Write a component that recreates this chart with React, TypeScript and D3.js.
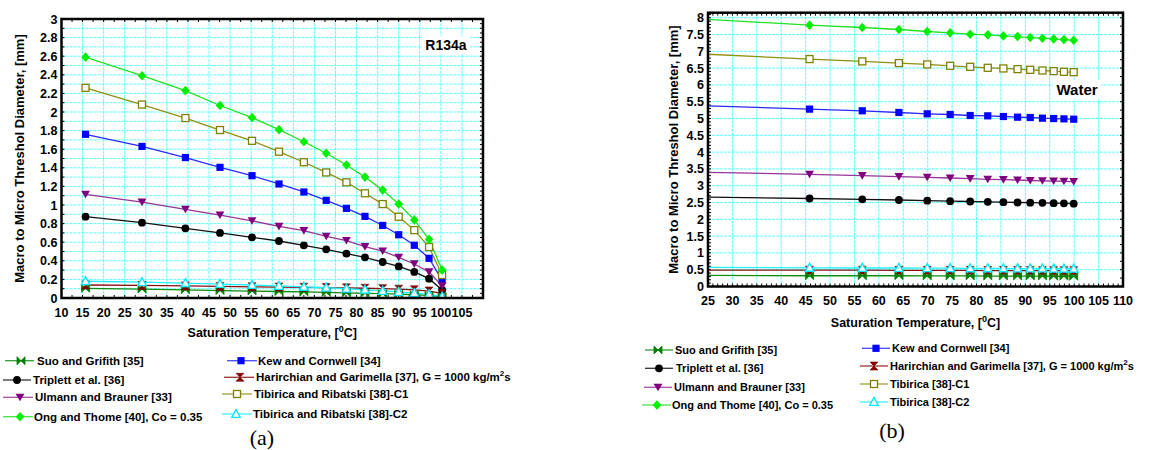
import React from 'react';
import * as d3 from 'd3';

// Saturation temperatures (deg C)
const tempR134a = [15.7, 29.1, 39.4, 47.6, 55.2, 61.6, 67.5, 72.8, 77.6, 82.0, 86.2, 90.0, 93.7, 97.2, 100.3];
const tempWater = [24.1, 45.8, 56.6, 64.1, 69.9, 74.6, 78.7, 82.3, 85.5, 88.4, 91.0, 93.5, 95.8, 97.9, 99.9];

// R134a threshold diameters (mm)
const r134aSuo = [0.104, 0.095, 0.088, 0.08, 0.075, 0.07, 0.065, 0.06, 0.055, 0.05, 0.046, 0.041, 0.035, 0.028, 0.016];
const r134aKew = [1.76, 1.63, 1.51, 1.405, 1.315, 1.226, 1.14, 1.05, 0.964, 0.878, 0.78, 0.68, 0.567, 0.427, 0.19];
const r134aTriplett = [0.875, 0.81, 0.749, 0.70, 0.652, 0.613, 0.566, 0.523, 0.477, 0.437, 0.387, 0.34, 0.28, 0.208, 0.086];
const r134aHarirchian = [0.14, 0.135, 0.13, 0.125, 0.12, 0.118, 0.115, 0.112, 0.109, 0.105, 0.1, 0.095, 0.088, 0.075, 0.05];
const r134aUlmann = [1.115, 1.03, 0.953, 0.892, 0.83, 0.77, 0.724, 0.663, 0.617, 0.552, 0.505, 0.437, 0.366, 0.28, 0.13];
const r134aC1 = [2.26, 2.08, 1.935, 1.806, 1.69, 1.573, 1.46, 1.35, 1.244, 1.126, 1.01, 0.874, 0.73, 0.548, 0.247];
const r134aOng = [2.59, 2.39, 2.23, 2.07, 1.94, 1.81, 1.68, 1.556, 1.43, 1.30, 1.16, 1.01, 0.84, 0.63, 0.30];
const r134aC2 = [0.18, 0.17, 0.16, 0.15, 0.14, 0.13, 0.12, 0.11, 0.1, 0.088, 0.076, 0.065, 0.052, 0.038, 0.015];

// Water threshold diameters (mm)
const waterSuo = [0.33, 0.32, 0.32, 0.32, 0.315, 0.315, 0.315, 0.31, 0.31, 0.31, 0.31, 0.31, 0.305, 0.305, 0.305];
const waterKew = [5.38, 5.28, 5.23, 5.18, 5.14, 5.12, 5.09, 5.08, 5.06, 5.04, 5.03, 5.01, 5.0, 4.99, 4.98];
const waterTriplett = [2.66, 2.62, 2.595, 2.575, 2.555, 2.54, 2.53, 2.52, 2.51, 2.5, 2.495, 2.49, 2.48, 2.475, 2.465];
const waterHarirchian = [0.49, 0.485, 0.485, 0.48, 0.48, 0.48, 0.48, 0.475, 0.475, 0.475, 0.475, 0.47, 0.47, 0.47, 0.47];
const waterUlmann = [3.4, 3.34, 3.3, 3.27, 3.25, 3.23, 3.21, 3.19, 3.18, 3.17, 3.155, 3.145, 3.14, 3.13, 3.12];
const waterC1 = [6.92, 6.77, 6.7, 6.65, 6.61, 6.57, 6.54, 6.51, 6.49, 6.47, 6.45, 6.43, 6.41, 6.39, 6.38];
const waterOng = [7.96, 7.78, 7.71, 7.65, 7.59, 7.55, 7.51, 7.49, 7.46, 7.44, 7.41, 7.39, 7.37, 7.35, 7.33];
const waterC2 = [0.57, 0.555, 0.55, 0.55, 0.545, 0.545, 0.54, 0.54, 0.54, 0.535, 0.535, 0.535, 0.53, 0.53, 0.53];

// tick labels
const xTicksA = [10, 15, 20, 25, 30, 35, 40, 45, 50, 55, 60, 65, 70, 75, 80, 85, 90, 95, 100, 105];
const yTicksA = [0, 0.2, 0.4, 0.6, 0.8, 1, 1.2, 1.4, 1.6, 1.8, 2, 2.2, 2.4, 2.6, 2.8, 3];
const xTicksB = [25, 30, 35, 40, 45, 50, 55, 60, 65, 70, 75, 80, 85, 90, 95, 100, 105, 110];
const yTicksB = [0, 0.5, 1, 1.5, 2, 2.5, 3, 3.5, 4, 4.5, 5, 5.5, 6, 6.5, 7, 7.5, 8];

const FONT = '"Liberation Sans", Arial, Helvetica, sans-serif';

// series styles: drawing order
const styles = {
  kew: { color: '#0000ff', line: '#2a2aff', marker: 'square' },
  triplett: { color: '#000000', line: '#111111', marker: 'circle' },
  ulmann: { color: '#800080', line: '#993399', marker: 'triDown' },
  c1: { color: '#808000', line: '#8f8f10', marker: 'squareOpen' },
  ong: { color: '#00ee00', line: '#22e022', marker: 'diamond' },
  harirchian: { color: '#800000', line: '#8a1010', marker: 'hourglass' },
  suo: { color: '#008000', line: '#108a10', marker: 'bowtie' },
  c2: { color: '#00e8ff', line: '#20f0ff', marker: 'triOpen' },
};

const seriesA = [
  { key: 'kew', values: r134aKew },
  { key: 'triplett', values: r134aTriplett },
  { key: 'ulmann', values: r134aUlmann },
  { key: 'c1', values: r134aC1 },
  { key: 'ong', values: r134aOng },
  { key: 'suo', values: r134aSuo },
  { key: 'harirchian', values: r134aHarirchian },
  { key: 'c2', values: r134aC2 },
];
const seriesB = [
  { key: 'kew', values: waterKew },
  { key: 'triplett', values: waterTriplett },
  { key: 'ulmann', values: waterUlmann },
  { key: 'c1', values: waterC1 },
  { key: 'ong', values: waterOng },
  { key: 'harirchian', values: waterHarirchian },
  { key: 'suo', values: waterSuo },
  { key: 'c2', values: waterC2 },
];

function Marker({ type, x, y, color }) {
  switch (type) {
    case 'circle':
      return <circle cx={x} cy={y} r={3.9} fill={color} />;
    case 'square':
      return <rect x={x - 3.6} y={y - 3.6} width={7.2} height={7.2} fill={color} />;
    case 'squareOpen':
      return <rect x={x - 3.5} y={y - 3.5} width={7} height={7} fill="#fff" stroke={color} strokeWidth={1.3} />;
    case 'diamond':
      return <path d={`M${x},${y - 4.8}L${x + 4.3},${y}L${x},${y + 4.8}L${x - 4.3},${y}Z`} fill={color} />;
    case 'triDown':
      return <path d={`M${x - 4.4},${y - 3.6}L${x + 4.4},${y - 3.6}L${x},${y + 4}Z`} fill={color} />;
    case 'triOpen':
      return <path d={`M${x},${y - 4.6}L${x + 4.3},${y + 3.4}L${x - 4.3},${y + 3.4}Z`} fill="#fff" stroke={color} strokeWidth={1.3} />;
    case 'bowtie':
      return <path d={`M${x - 4},${y - 4}L${x},${y}L${x - 4},${y + 4}ZM${x + 4},${y - 4}L${x},${y}L${x + 4},${y + 4}Z`} fill={color} stroke={color} strokeWidth={0.8} />;
    case 'hourglass':
      return <path d={`M${x - 4},${y - 4}L${x + 4},${y - 4}L${x},${y}ZM${x - 4},${y + 4}L${x + 4},${y + 4}L${x},${y}Z`} fill={color} stroke={color} strokeWidth={0.6} />;
    default:
      return null;
  }
}

function Panel({ id, box, xDomain, yDomain, xTicks, yTicks, xGrid, yGrid, minor, temps, series, tag, tagPos, tagSize, xTitleY, yTitleX, xLabelY }) {
  const xs = d3.scaleLinear().domain(xDomain).range([box.left, box.right]);
  const ys = d3.scaleLinear().domain(yDomain).range([box.bottom, box.top]);
  const line = d3.line<number>().x((d, i) => xs(temps[i])).y(d => ys(d));
  const eps = 1e-9;
  const gx = d3.range(xDomain[0], xDomain[1] + eps, xGrid);
  const gy = d3.range(yDomain[0], yDomain[1] + eps, yGrid);
  const fmt = (v: number) => String(+v.toFixed(2));

  return (
    <g>
      <defs>
        <clipPath id={`clip-${id}`}>
          <rect x={box.left} y={box.top} width={box.right - box.left} height={box.bottom - box.top} />
        </clipPath>
      </defs>
      {/* grid */}
      <g stroke="#4dffff" strokeWidth={1} strokeDasharray="3 1" opacity={0.9}>
        {gx.map(v => <line key={'gx' + v} x1={xs(v)} x2={xs(v)} y1={box.top} y2={box.bottom} />)}
        {gy.map(v => <line key={'gy' + v} y1={ys(v)} y2={ys(v)} x1={box.left} x2={box.right} />)}
      </g>
      {/* minor ticks */}
      <g stroke="#000" strokeWidth={1}>
        {d3.range(yDomain[0], yDomain[1] + eps, minor.left).map(v => (
          <line key={'tl' + v} x1={box.left} x2={box.left + 3} y1={ys(v)} y2={ys(v)} />
        ))}
        {d3.range(yDomain[0], yDomain[1] + eps, minor.right).map(v => (
          <line key={'tr' + v} x1={box.right} x2={box.right - 3} y1={ys(v)} y2={ys(v)} />
        ))}
        {d3.range(xDomain[0], xDomain[1] + eps, minor.top).map(v => (
          <line key={'tt' + v} x1={xs(v)} x2={xs(v)} y1={box.top} y2={box.top + 3} />
        ))}
        {d3.range(xDomain[0], xDomain[1] + eps, minor.bottom).map(v => (
          <line key={'tb' + v} x1={xs(v)} x2={xs(v)} y1={box.bottom} y2={box.bottom - 3} />
        ))}
      </g>
      {/* series */}
      <g clipPath={`url(#clip-${id})`}>
        {series.map(s => (
          <path key={s.key} d={line(s.values) || ''} fill="none" stroke={styles[s.key].line} strokeWidth={1.3} />
        ))}
        {series.map(s => (
          <g key={s.key + 'm'}>
            {s.values.map((v, i) =>
              temps[i] >= xDomain[0] ? (
                <Marker key={i} type={styles[s.key].marker} x={xs(temps[i])} y={ys(v)} color={styles[s.key].color} />
              ) : null
            )}
          </g>
        ))}
      </g>
      {/* frame */}
      <rect x={box.left} y={box.top} width={box.right - box.left} height={box.bottom - box.top} fill="none" stroke="#000" strokeWidth={2.5} />
      {/* tick labels */}
      <g fontFamily={FONT} fontWeight="bold" fontSize={12.5} fill="#000">
        {yTicks.map(v => (
          <text key={'yl' + v} x={box.left - 4} y={ys(v) + 4.5} textAnchor="end">{fmt(v)}</text>
        ))}
        {xTicks.map(v => (
          <text key={'xl' + v} x={xs(v)} y={xLabelY} textAnchor="middle">{fmt(v)}</text>
        ))}
      </g>
      {/* axis titles */}
      <text x={(box.left + box.right) / 2} y={xTitleY} textAnchor="middle" fontFamily={FONT} fontWeight="bold" fontSize={12.5}>
        Saturation Temperature, [<tspan dy={-5} fontSize={9}>0</tspan><tspan dy={5}>C]</tspan>
      </text>
      <text transform={`translate(${yTitleX},${(box.top + box.bottom) / 2}) rotate(-90)`} textAnchor="middle" fontFamily={FONT} fontWeight="bold" fontSize={13}>
        Macro to Micro Threshol Diameter, [mm]
      </text>
      <rect x={tagPos[0] - 24} y={tagPos[1] - tagSize} width={48} height={tagSize + 4} fill="#fff" />
      <text x={tagPos[0]} y={tagPos[1]} textAnchor="middle" fontFamily={FONT} fontWeight="bold" fontSize={tagSize}>{tag}</text>
    </g>
  );
}

function Legend({ items, fontSize }) {
  return (
    <g fontFamily={FONT} fontWeight="bold" fontSize={fontSize}>
      {items.map((it, i) => (
        <g key={i}>
          <line x1={it.x1} x2={it.x2} y1={it.y} y2={it.y} stroke={styles[it.key].line} strokeWidth={1.3} opacity={0.85} />
          <Marker type={styles[it.key].marker} x={it.mx} y={it.y} color={styles[it.key].color} />
          <text x={it.tx} y={it.y + 4}>{it.label}</text>
        </g>
      ))}
    </g>
  );
}

const kgLabel = (
  <>
    Harirchian and Garimella [37], G = 1000 kg/m<tspan dy={-5} fontSize={8}>2</tspan><tspan dy={5}>s</tspan>
  </>
);

const legendA = [
  { key: 'suo', label: 'Suo and Grifith [35]', x1: 5, x2: 34, mx: 21, tx: 37, y: 360.7 },
  { key: 'triplett', label: 'Triplett et al. [36]', x1: 3, x2: 31, mx: 17, tx: 33, y: 380 },
  { key: 'ulmann', label: 'Ulmann and Brauner [33]', x1: 3, x2: 33, mx: 20, tx: 35, y: 397.3 },
  { key: 'ong', label: 'Ong and Thome [40], Co = 0.35', x1: 3, x2: 33, mx: 20, tx: 34, y: 416.7 },
  { key: 'kew', label: 'Kew and Cornwell [34]', x1: 227, x2: 257, mx: 241, tx: 258, y: 360.7 },
  { key: 'harirchian', label: kgLabel, x1: 224, x2: 254, mx: 240, tx: 256, y: 377.3 },
  { key: 'c1', label: 'Tibirica and Ribatski [38]-C1', x1: 222, x2: 252, mx: 237, tx: 254, y: 394 },
  { key: 'c2', label: 'Tibirica and Ribatski [38]-C2', x1: 222, x2: 252, mx: 236, tx: 253, y: 414 },
];

const legendB = [
  { key: 'suo', label: 'Suo and Grifith [35]', x1: 645, x2: 673, mx: 658, tx: 675, y: 350 },
  { key: 'triplett', label: 'Triplett et al. [36]', x1: 645, x2: 673, mx: 659, tx: 676, y: 368.3 },
  { key: 'ulmann', label: 'Ulmann and Brauner [33]', x1: 644, x2: 672, mx: 658, tx: 674, y: 387.3 },
  { key: 'ong', label: 'Ong and Thome [40], Co = 0.35', x1: 642, x2: 671, mx: 657, tx: 672, y: 405 },
  { key: 'kew', label: 'Kew and Cornwell [34]', x1: 862, x2: 890, mx: 876, tx: 892, y: 348.3 },
  { key: 'harirchian', label: kgLabel, x1: 860, x2: 888, mx: 874, tx: 890, y: 366 },
  { key: 'c1', label: 'Tibirica [38]-C1', x1: 860, x2: 888, mx: 874, tx: 890, y: 384 },
  { key: 'c2', label: 'Tibirica [38]-C2', x1: 860, x2: 888, mx: 874, tx: 890, y: 402 },
];

export default function App() {
  return (
    <svg width={1164} height={450} style={{ position: 'absolute', left: 0, top: 0, background: '#fff' }}>
      <Panel
        id="a"
        box={{ left: 61.5, right: 483, top: 19, bottom: 298 }}
        xDomain={[10, 110]}
        yDomain={[0, 3]}
        xTicks={xTicksA}
        yTicks={yTicksA}
        xGrid={5}
        yGrid={0.1}
        minor={{ left: 0.1, right: 0.05, top: 2.5, bottom: 2.5 }}
        temps={tempR134a}
        series={seriesA}
        tag="R134a"
        tagPos={[446, 50]}
        tagSize={14}
        xTitleY={337}
        yTitleX={24}
        xLabelY={317}
      />
      <Panel
        id="b"
        box={{ left: 708, right: 1123, top: 12.7, bottom: 286.5 }}
        xDomain={[25, 110]}
        yDomain={[0, 8.15]}
        xTicks={xTicksB}
        yTicks={yTicksB}
        xGrid={5}
        yGrid={0.5}
        minor={{ left: 0.1, right: 0.25, top: 1, bottom: 1 }}
        temps={tempWater}
        series={seriesB}
        tag="Water"
        tagPos={[1077, 95]}
        tagSize={15}
        xTitleY={327}
        yTitleX={678}
        xLabelY={305}
      />
      <Legend items={legendA} fontSize={11.5} />
      <Legend items={legendB} fontSize={11} />
      <text x={262} y={445} textAnchor="middle" fontFamily='"Liberation Serif", "Times New Roman", serif' fontSize={22}>(a)</text>
      <text x={892} y={438} textAnchor="middle" fontFamily='"Liberation Serif", "Times New Roman", serif' fontSize={22}>(b)</text>
    </svg>
  );
}
